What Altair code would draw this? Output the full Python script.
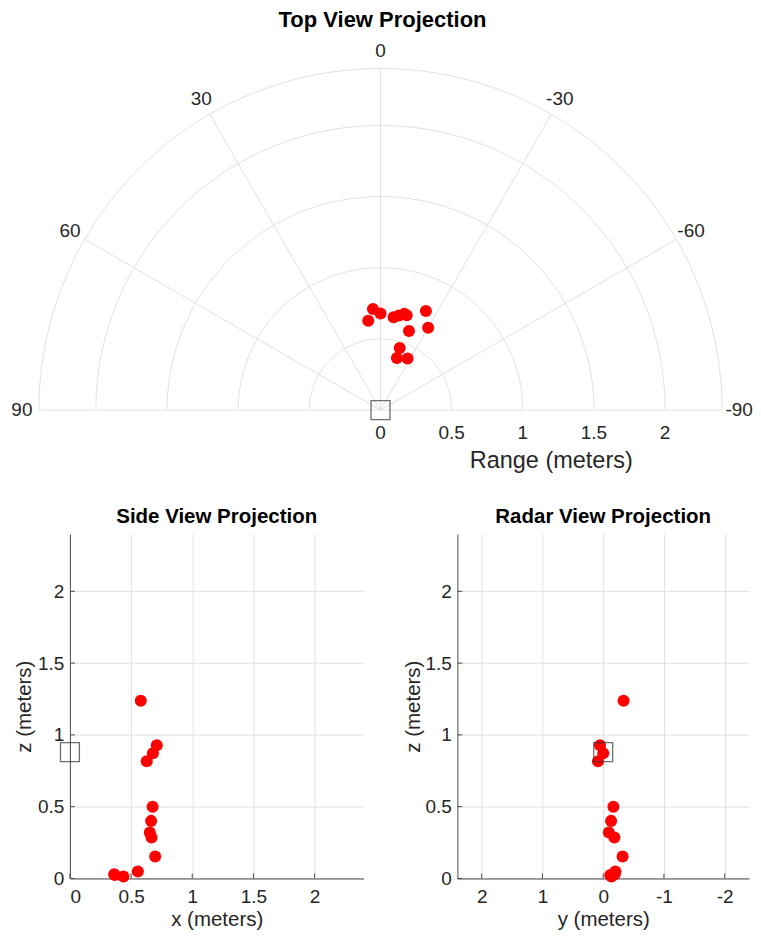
import altair as alt
import pandas as pd
import numpy as np

# ---------------- data (meters) ----------------
pt_x = [0.579, 0.710, 0.678, 0.628, 0.676, 0.664, 0.653, 0.667, 0.697, 0.555, 0.366, 0.437, 0.362]
pt_y = [-0.335, 0.053, 0.000, 0.086, -0.168, -0.130, -0.092, -0.184, -0.319, -0.200, -0.115, -0.135, -0.190]
pt_z = [1.238, 0.928, 0.872, 0.816, 0.500, 0.401, 0.320, 0.285, 0.153, 0.049, 0.024, 0.014, 0.030]

sensor_x = [0.0]
sensor_y = [0.0]
sensor_z = [0.88]

ring_radii = [0.5, 1.0, 1.5, 2.0, 2.4]
spoke_angles = [90, 60, 30, 0, -30, -60, -90]
angle_label_values = [90, 60, 30, 0, -30, -60, -90]
range_tick_values = [0, 0.5, 1, 1.5, 2]
x_ticks = [0, 0.5, 1, 1.5, 2]
z_ticks = [0, 0.5, 1, 1.5, 2]
y_ticks = [2, 1, 0, -1, -2]
range_title = "Range (meters)"
R_MAX = 2.4
R_LABEL = 2.52

# layout helpers (pixels)
PX_PER_M = 142.5
LEFT_SHIFT_PX = 31          # polar disk starts this far left of the side-view plot
TOP_W = 684 - LEFT_SHIFT_PX

FONT = "Liberation Sans"
TXT = "#262626"
GRID = "#e0e0e0"
AXC = "#4d4d4d"

pts = pd.DataFrame({"x": pt_x, "y": pt_y, "z": pt_z})
sensor = pd.DataFrame({"x": sensor_x, "y": sensor_y, "z": sensor_z})

# ---------------- top (polar) view ----------------
sweep = np.arange(-90, 91, 1)
rings = pd.DataFrame([{"r": r, "theta": float(t), "k": i} for r in ring_radii for i, t in enumerate(sweep)])
spokes = pd.DataFrame([{"theta": a, "r": r, "k": j} for a in spoke_angles for j, r in enumerate((0.0, R_MAX))])
alabels = pd.DataFrame({"theta": angle_label_values, "r": [R_LABEL] * len(angle_label_values),
                        "label": [str(a) for a in angle_label_values]})
rlabels = pd.DataFrame({"r": range_tick_values, "label": [f"{v:g}" for v in range_tick_values]})
rtitle = pd.DataFrame({"r": [R_MAX / 2], "label": [range_title]})

hs = alt.Scale(domain=[-R_MAX, R_MAX - LEFT_SHIFT_PX / PX_PER_M], reverse=True, nice=False, zero=False)
vs = alt.Scale(domain=[0, R_MAX], nice=False, zero=False)

polar_calc = dict(h="datum.r*sin(datum.theta*PI/180)", v="datum.r*cos(datum.theta*PI/180)")

ring_layer = alt.Chart(rings).transform_calculate(**polar_calc).mark_line(
    color=GRID, strokeWidth=1).encode(
    x=alt.X("h:Q", scale=hs, axis=None),
    y=alt.Y("v:Q", scale=vs, axis=None),
    detail="r:N", order="k:Q")

spoke_layer = alt.Chart(spokes).transform_calculate(**polar_calc).mark_line(
    color=GRID, strokeWidth=1).encode(
    x=alt.X("h:Q", scale=hs, axis=None),
    y=alt.Y("v:Q", scale=vs, axis=None),
    detail="theta:N", order="k:Q")

top_pts = alt.Chart(pts).mark_circle(size=145, color="#ff0000", opacity=1).encode(
    x=alt.X("y:Q", scale=hs, axis=None),
    y=alt.Y("x:Q", scale=vs, axis=None))

top_sensor = alt.Chart(sensor).mark_square(filled=False, size=360, stroke="#333333", strokeWidth=1.3).encode(
    x=alt.X("y:Q", scale=hs, axis=None),
    y=alt.Y("x:Q", scale=vs, axis=None))

alab_layer = alt.Chart(alabels).transform_calculate(**polar_calc).mark_text(
    font=FONT, fontSize=19, color=TXT, baseline="middle", align="center").encode(
    x=alt.X("h:Q", scale=hs, axis=None),
    y=alt.Y("v:Q", scale=vs, axis=None),
    text="label:N")

rlab_layer = alt.Chart(rlabels).transform_calculate(h="-datum.r", v="0").mark_text(
    font=FONT, fontSize=19, color=TXT, baseline="middle", align="center", dy=23).encode(
    x=alt.X("h:Q", scale=hs, axis=None),
    y=alt.Y("v:Q", scale=vs, axis=None),
    text="label:N")

rtitle_layer = alt.Chart(rtitle).transform_calculate(h="-datum.r", v="0").mark_text(
    font=FONT, fontSize=23.5, color=TXT, baseline="middle", align="center", dy=51).encode(
    x=alt.X("h:Q", scale=hs, axis=None),
    y=alt.Y("v:Q", scale=vs, axis=None),
    text="label:N")

top = alt.layer(ring_layer, spoke_layer, top_pts, top_sensor, alab_layer, rlab_layer, rtitle_layer).properties(
    width=TOP_W, height=342,
    title=alt.TitleParams("Top View Projection", fontSize=22, font=FONT, fontWeight="bold",
                          color="#000000", offset=10, dx=-LEFT_SHIFT_PX / 2 + 2))


# ---------------- cartesian views ----------------
def cart_view(title, field, xdom, xrev, xticks, xtitle, width, ztitle_pad):
    xs = alt.Scale(domain=xdom, reverse=xrev, nice=False, zero=False)
    zs = alt.Scale(domain=[0, R_MAX], nice=False, zero=False)
    xaxis = alt.Axis(values=xticks, title=xtitle, labelExpr="'' + datum.value", grid=True,
                     ticks=False, labelPadding=9, titlePadding=3)
    zaxis = alt.Axis(values=z_ticks, title="z (meters)", labelExpr="'' + datum.value", grid=True,
                     ticks=False, labelPadding=6, titlePadding=ztitle_pad)
    X = alt.X(f"{field}:Q", scale=xs, axis=xaxis)
    Y = alt.Y("z:Q", scale=zs, axis=zaxis)
    points = alt.Chart(pts).mark_circle(size=145, color="#ff0000", opacity=1).encode(x=X, y=Y)
    sq = alt.Chart(sensor).mark_square(filled=False, size=360, stroke="#333333",
                                       strokeWidth=1.3).encode(x=X, y=Y)
    xt = alt.Chart(pd.DataFrame({field: xticks})).mark_rule(color=AXC, strokeWidth=1).encode(
        x=X, y=alt.value(345), y2=alt.value(340))
    zt = alt.Chart(pd.DataFrame({"z": z_ticks})).mark_rule(color=AXC, strokeWidth=1).encode(
        y=Y, x=alt.value(0), x2=alt.value(5))
    return alt.layer(points, xt, zt, sq).properties(
        width=width, height=345,
        title=alt.TitleParams(title, fontSize=20.5, font=FONT, fontWeight="bold",
                              color="#000000", offset=6))


side = cart_view("Side View Projection", "x", [0, R_MAX], False, x_ticks, "x (meters)", 294, 3)
radar = cart_view("Radar View Projection", "y", [-R_MAX, R_MAX], True, y_ticks, "y (meters)", 292, 2)

bottom = alt.hconcat(side, radar, spacing=39)

chart = alt.vconcat(top, bottom, spacing=34).properties(
    padding={"left": 3, "top": 0, "right": 0, "bottom": 0}
).configure_view(stroke=None).configure_axis(
    labelFont=FONT, titleFont=FONT, labelFontSize=19, titleFontSize=20.5,
    labelColor=TXT, titleColor=TXT, titleFontWeight="normal",
    domainColor=AXC, domainWidth=1, gridColor=GRID, gridWidth=1
).configure_title(font=FONT)

chart.save("out.html", embed_options={"renderer": "svg", "actions": False})
